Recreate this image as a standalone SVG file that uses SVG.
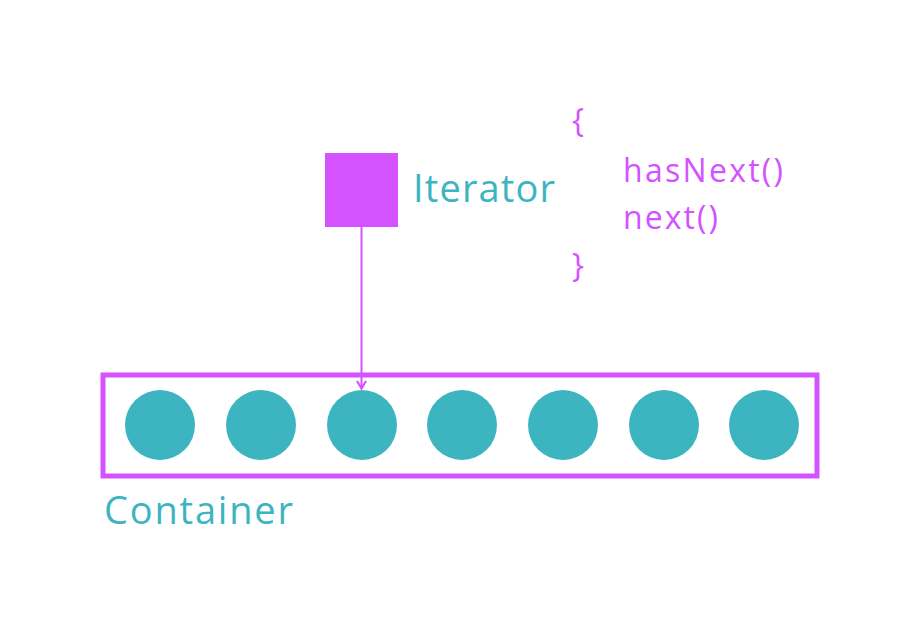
<svg xmlns="http://www.w3.org/2000/svg" width="920" height="636" viewBox="0 0 920 636">
<style>
.teal{fill:#3db5c0;font-family:"Open Sans","Noto Sans",sans-serif;font-weight:400;}
.code{fill:#d452ff;font-family:"Open Sans","Noto Sans",sans-serif;font-weight:400;font-size:32px;}
.item{fill:#3db5c0;}
</style>
<defs>
<marker id="arr" viewBox="0 0 12 12" refX="11" refY="6" markerWidth="12" markerHeight="12" markerUnits="userSpaceOnUse" orient="auto">
<path d="M3,1.5 L10.5,6 L3,10.5" fill="none" stroke="#d452ff" stroke-width="2.2"/>
</marker>
</defs>
<rect width="920" height="636" fill="#ffffff"/>
<g id="container">
<rect x="103" y="375" width="714" height="101" fill="none" stroke="#d452ff" stroke-width="5"/>
<circle class="item" cx="160" cy="425" r="35"/>
<circle class="item" cx="261" cy="425" r="35"/>
<circle class="item" cx="362" cy="425" r="35"/>
<circle class="item" cx="462" cy="425" r="35"/>
<circle class="item" cx="563" cy="425" r="35"/>
<circle class="item" cx="664" cy="425" r="35"/>
<circle class="item" cx="764" cy="425" r="35"/>
<text class="teal" x="104" y="524" font-size="38" textLength="189" lengthAdjust="spacing">Container</text>
</g>
<g id="iterator">
<rect x="325" y="153" width="73" height="74" fill="#d452ff"/>
<text class="teal" x="413" y="202" font-size="38" textLength="142" lengthAdjust="spacing">Iterator</text>
</g>
<g id="methods">
<text class="code" x="572" y="132">{</text>
<text class="code" x="623" y="182" textLength="160" lengthAdjust="spacing">hasNext()</text>
<text class="code" x="623" y="229" textLength="95" lengthAdjust="spacing">next()</text>
<text class="code" x="572" y="277">}</text>
</g>
<g id="connectors">
<line x1="361.5" y1="227" x2="361.5" y2="389" stroke="#d452ff" stroke-width="2" marker-end="url(#arr)"/>
</g>
</svg>
